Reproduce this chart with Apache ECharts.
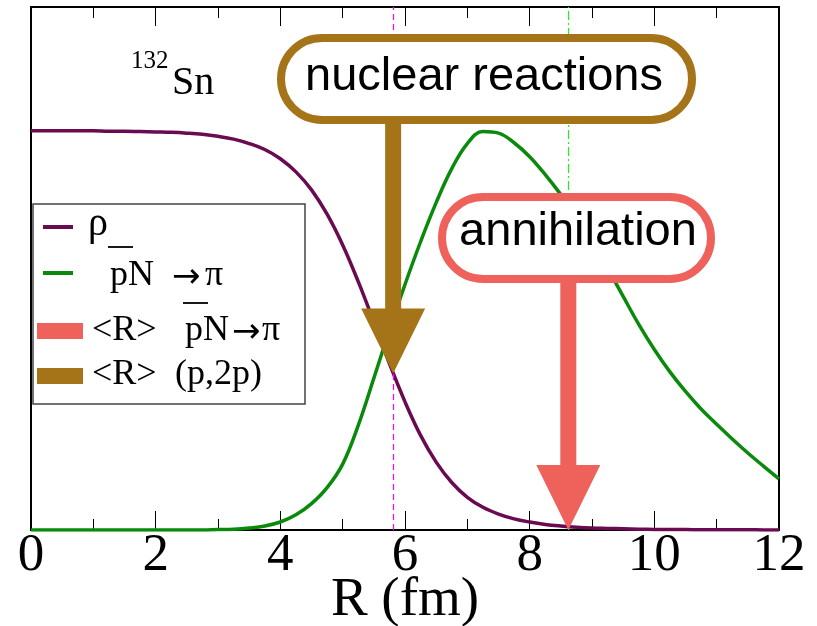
<!DOCTYPE html>
<html><head><meta charset="utf-8">
<script src="https://cdn.jsdelivr.net/npm/echarts@6/dist/echarts.min.js"></script>
<style>html,body{margin:0;padding:0;background:#fff}#c{width:817px;height:626px}</style>
</head><body><div id="c"></div>
<script>
// ---- data ----
const rValues = [0,0.25,0.5,0.75,1,1.25,1.5,1.75,2,2.25,2.5,2.75,3,3.25,3.5,3.75,4,4.25,4.5,4.75,5,5.25,5.5,5.75,6,6.25,6.5,6.75,7,7.25,7.5,7.75,8,8.25,8.5,8.75,9,9.25,9.5,9.75,10,10.25,10.5,10.75,11,11.25,11.5,11.75,12];
const rhoValues = [1.000,1.000,1.000,1.000,1.000,0.999,0.999,0.998,0.997,0.996,0.994,0.991,0.986,0.979,0.968,0.953,0.930,0.897,0.852,0.791,0.714,0.622,0.521,0.417,0.321,0.237,0.170,0.119,0.082,0.057,0.040,0.028,0.020,0.014,0.010,0.007,0.005,0.004,0.003,0.002,0.0015,0.001,0.001,0.0008,0.0006,0.0005,0.0004,0.0003,0.0002];
const pionValues = [0,0,0,0,0,0,0,0,0,0,0,0,0.001,0.002,0.005,0.010,0.020,0.038,0.066,0.106,0.165,0.262,0.380,0.500,0.615,0.722,0.820,0.905,0.968,0.998,0.994,0.970,0.935,0.890,0.840,0.785,0.723,0.655,0.585,0.515,0.452,0.396,0.347,0.303,0.265,0.228,0.193,0.160,0.128];
const meanR = [5.81, 8.62];          // <R> (p,2p), <R> pbarN->pi
const arrowTipY = [0.392, 0];        // arrow tips (data units)
const arrowTopY = [1.05, 0.64];      // arrow start (inside the boxes)
const xTicks = [0,2,4,6,8,10,12];

// ---- style ----
const PURPLE = '#6a0a50', GREEN = '#0a8a0a', BROWN = '#a57419', SALMON = '#ee625b';
const arrowColors = [BROWN, SALMON];
const SERIF = '"Liberation Serif","Times New Roman",serif';
const SANS = '"Liberation Sans",Arial,sans-serif';

const chart = echarts.init(document.getElementById('c'));
const tickCommon = {
  type: 'value', min: xTicks[0], max: xTicks[xTicks.length-1], interval: xTicks[1]-xTicks[0],
  splitLine: {show:false},
  axisLine: {show:true, onZero:false, lineStyle:{color:'#000', width:2}},
  axisTick: {show:true, inside:true, length:19, lineStyle:{color:'#000', width:1}},
  minorTick: {show:true, splitNumber:2, length:11, lineStyle:{color:'#000', width:1}},
  minorSplitLine: {show:false}
};
const legendText = (x, y, t, size, fam) => ({type:'text', z:101, style:{x, y, text:t, font: (size||36)+'px '+(fam||SERIF), fill:'#000', textAlign:'left', textVerticalAlign:'middle'}});

chart.setOption({
  animation: false,
  backgroundColor: '#fff',
  grid: {left:31, top:7, right:38, bottom:96, containLabel:false, outerBoundsMode:'none',
         show:true, borderColor:'#000', borderWidth:2, backgroundColor:'transparent'},
  xAxis: [
    Object.assign({}, tickCommon, {
      position:'bottom',
      axisLabel: {show:true, margin:0, fontFamily:SERIF, fontSize:53, color:'#000',
        formatter: v => xTicks.includes(v) ? String(v) : ''},
      name: 'R (fm)', nameLocation:'middle', nameGap:43, nameMoveOverlap:false,
      nameTextStyle: {fontFamily:SERIF, fontSize:55, color:'#000', verticalAlign:'top'}
    }),
    Object.assign({}, tickCommon, {position:'top', axisLabel:{show:false}})
  ],
  yAxis: [{type:'value', min:0, max:1.31, axisLine:{show:false}, axisTick:{show:false}, axisLabel:{show:false}, splitLine:{show:false}}],
  series: [
    {
      type:'line', name:'meanR', data: [], z:2,
      markLine: {
        silent:true, symbol:'none', label:{show:false}, animation:false,
        data: [
          {xAxis: meanR[0], lineStyle:{color:'#ff00ff', width:1.2, type:[6,4], opacity:1}},
          {xAxis: meanR[1], lineStyle:{color:'#22ee22', width:1.2, type:[9,3,2,3], opacity:1}}
        ]
      }
    },
    {
      type:'line', name:'rho', data: rValues.map((r,i)=>[r, rhoValues[i]]),
      showSymbol:false, smooth:0.4, lineStyle:{color:PURPLE, width:3.5}, itemStyle:{color:PURPLE}, z:3
    },
    {
      type:'line', name:'pion', data: rValues.map((r,i)=>[r, pionValues[i]]),
      showSymbol:false, smooth:0.4, lineStyle:{color:GREEN, width:3.5}, itemStyle:{color:GREEN}, z:3
    },
    {
      type:'custom', name:'arrows', z:5, clip:false,
      data: meanR.map((r,i)=>[r, arrowTipY[i], arrowTopY[i]]),
      encode:{x:0, y:1},
      renderItem: (params, api) => {
        const tip = api.coord([api.value(0), api.value(1)]);
        const top = api.coord([api.value(0), api.value(2)]);
        const hw = 8, HW = 32, HH = 65, x = tip[0];
        return {
          type:'polygon',
          shape:{points:[[x-hw, top[1]],[x+hw, top[1]],[x+hw, tip[1]-HH],[x+HW, tip[1]-HH],[x, tip[1]],[x-HW, tip[1]-HH],[x-hw, tip[1]-HH]]},
          style:{fill: arrowColors[params.dataIndex]}
        };
      }
    }
  ],
  graphic: [
    // annotation boxes
    {type:'rect', z:100, shape:{x:281, y:38, width:411, height:82, r:41}, style:{fill:'#fff', stroke:BROWN, lineWidth:8}},
    {type:'text', z:101, style:{x:484, y:77, text:'nuclear reactions', font:'47px '+SANS, fill:'#000', textAlign:'center', textVerticalAlign:'middle'}},
    {type:'rect', z:100, shape:{x:442, y:197, width:269, height:82, r:41}, style:{fill:'#fff', stroke:SALMON, lineWidth:8}},
    {type:'text', z:101, style:{x:578, y:232, text:'annihilation', font:'47px '+SANS, fill:'#000', textAlign:'center', textVerticalAlign:'middle'}},
    // nucleus label
    {type:'text', z:101, style:{x:131, y:61.5, text:'132', font:'25px '+SERIF, fill:'#000', textAlign:'left', textVerticalAlign:'middle'}},
    {type:'text', z:101, style:{x:172, y:83.5, text:'Sn', font:'40px '+SERIF, fill:'#000', textAlign:'left', textVerticalAlign:'middle'}},
    // legend
    {type:'rect', z:100, shape:{x:33, y:204, width:272, height:200}, style:{fill:'#fff', stroke:'#444', lineWidth:1.5}},
    {type:'line', z:101, shape:{x1:43, y1:227, x2:73, y2:227}, style:{stroke:PURPLE, lineWidth:4}},
    {type:'line', z:101, shape:{x1:43, y1:273, x2:73, y2:273}, style:{stroke:GREEN, lineWidth:4}},
    {type:'rect', z:101, shape:{x:37, y:323, width:46, height:16}, style:{fill:SALMON}},
    {type:'rect', z:101, shape:{x:37, y:368, width:46, height:16}, style:{fill:BROWN}},
    legendText(88, 224, 'ρ', 40),
    {type:'line', z:101, shape:{x1:108, y1:247, x2:133, y2:247}, style:{stroke:'#000', lineWidth:1.8}},
    legendText(110, 276, 'pN'),
    legendText(172, 278, '→', 34, '"DejaVu Sans"'),
    legendText(205, 276, 'π'),
    legendText(92, 331, '<R>'),
    {type:'line', z:101, shape:{x1:183, y1:303, x2:208, y2:303}, style:{stroke:'#000', lineWidth:1.8}},
    legendText(185, 331, 'pN'),
    legendText(232, 333, '→', 34, '"DejaVu Sans"'),
    legendText(262, 331, 'π'),
    legendText(92, 375, '<R>'),
    legendText(175, 375, '(p,2p)')
  ]
});
</script>
</body></html>
